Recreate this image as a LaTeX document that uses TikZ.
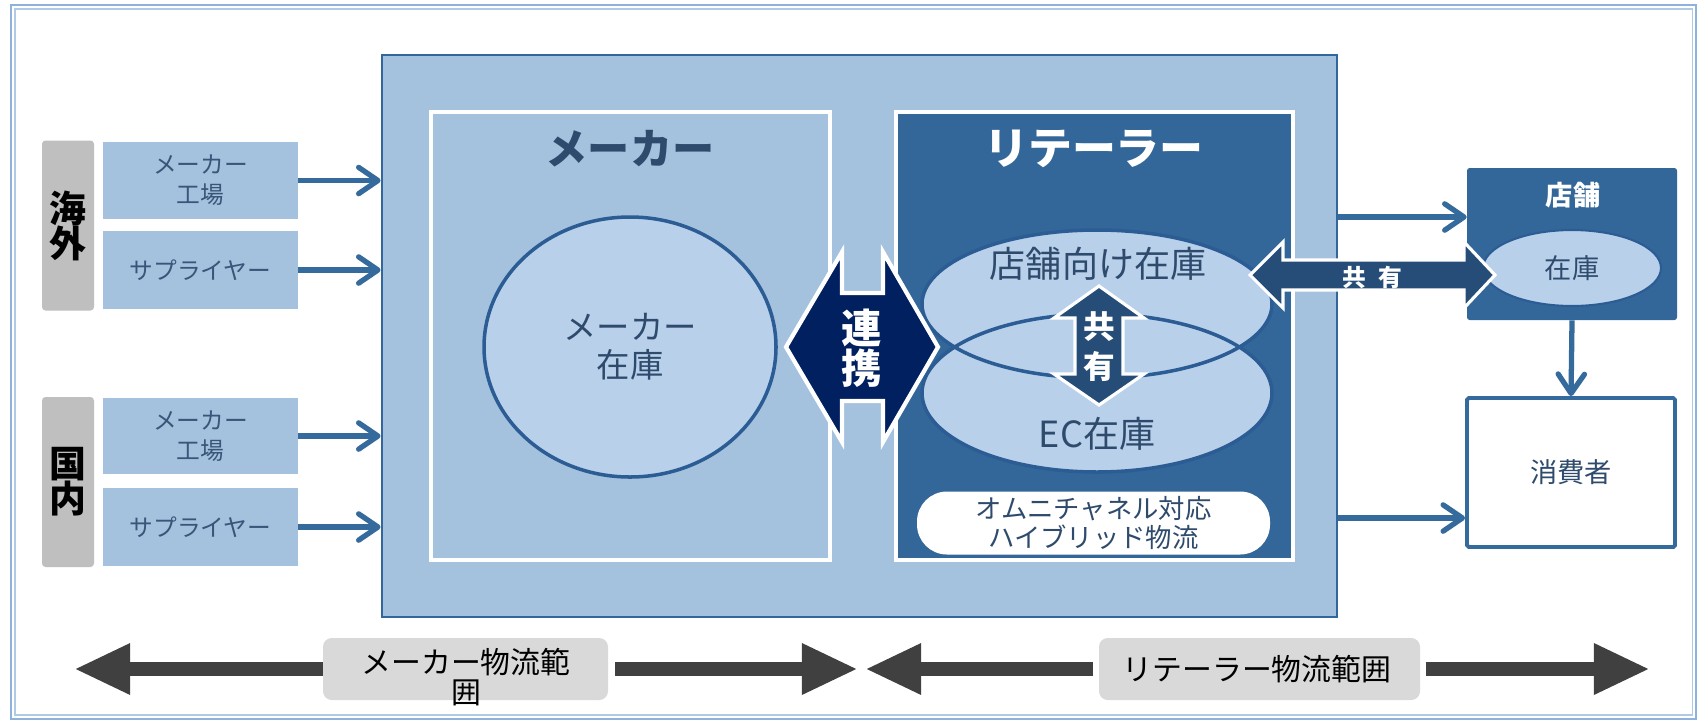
\documentclass[tikz,border=0pt]{standalone}
\usepackage{fontspec}
\setmainfont{Noto Sans CJK JP}
\usetikzlibrary{arrows.meta,shapes.geometric}
\definecolor{mainc}{HTML}{A4C2DE}
\definecolor{bordc}{HTML}{33669A}
\definecolor{retc}{HTML}{346799}
\definecolor{ellc}{HTML}{B8D0EA}
\definecolor{ellb}{HTML}{2B5C94}
\definecolor{navyc}{HTML}{002060}
\definecolor{sharec}{HTML}{264D77}
\definecolor{arrc}{HTML}{356A9C}
\definecolor{txtc}{HTML}{2E4A6C}
\definecolor{boxtxt}{HTML}{3B5479}
\definecolor{grayl}{HTML}{BFBFBF}
\definecolor{grayb}{HTML}{D9D9D9}
\definecolor{darkg}{HTML}{404040}
\definecolor{framec}{HTML}{8EB2DC}
\newcommand{\myfs}[2]{\fontsize{#1pt}{#2pt}\selectfont}
\begin{document}
\begin{tikzpicture}[x=0.02cm,y=-0.02cm,
  sz/.style 2 args={minimum width=#1*0.02cm, minimum height=#2*0.02cm, inner sep=0pt},
  lbox/.style={sz={195}{77}, fill=mainc, align=center, font=\myfs{13.5}{17}, text=boxtxt},
  glbl/.style={sz={52}{170}, fill=grayl, rounded corners=2pt, align=center, font=\myfs{21}{20}\bfseries, text=black},
  conn/.style={draw=arrc, line width=3pt, -{Straight Barb[length=11pt,width=15pt,round]}},
  bigarr/.style={draw=darkg, line width=8.5pt, -{Triangle[length=32pt,width=27pt]}},
  lblbox/.style={fill=grayb, rounded corners=5pt},
  lbltxt/.style={font=\myfs{17}{17}, text=black, align=center},
  ellfill/.style={ellipse, fill=ellc, inner sep=0pt},
  blockarr/.style={draw=white, line width=1.8pt, line join=miter}
]
\useasboundingbox (0,0) rectangle (1702,721);
\fill[white] (0,0) rectangle (1702,721);
\draw[framec, line width=0.7pt] (11,5) rectangle (1696,719);
\draw[framec!70, line width=0.6pt] (15,9) rectangle (1692,715);

% main container
\node[sz={955}{562}, fill=mainc, draw=bordc, line width=1.6pt] (main) at (859.5,336) {};
\node[sz={399}{448}, fill=mainc, draw=white, line width=2.6pt] (maker) at (630.5,336) {};
\node[sz={397}{448}, fill=retc, draw=white, line width=2.6pt] (ret) at (1094.5,336) {};
\node[font=\myfs{24}{26}\bfseries, text=txtc] (makert) at (630,149) {メーカー};
\node[font=\myfs{25}{27}\bfseries, text=white] (rett) at (1094,149) {リテーラー};

% maker inventory
\node[ellipse, sz={292}{260}, fill=ellc, draw=ellb, line width=2pt, align=center, font=\myfs{19}{21.5}, text=txtc] (makinv) at (630,347) {メーカー\\在庫};

% retailer inventories
\node[ellfill, sz={350}{148}] (strinv) at (1097,304) {};
\node[ellfill, sz={350}{158}] (ecinv) at (1097,393) {};
\draw[ellb, line width=2pt] (strinv.center) ellipse [x radius=175, y radius=74];
\draw[ellb, line width=2pt] (ecinv.center) ellipse [x radius=175, y radius=79];
\node[font=\myfs{20.5}{22}, text=txtc] (strinvt) at (1098,264) {店舗向け在庫};
\node[font=\myfs{20.5}{22}, text=txtc] (ecinvt) at (1097,434) {EC在庫};

% vertical share arrow
\draw[blockarr, fill=sharec] (1099,286) -- (1144,318) -- (1123,318) -- (1123,374) -- (1144,374) -- (1099,405) -- (1054,374) -- (1075,374) -- (1075,318) -- (1054,318) -- cycle;
\node[font=\myfs{18}{22.7}\bfseries, text=white, align=center] (kyoyu1) at (1099,347) {共\\有};

% omni
\node[sz={353}{63}, fill=white, rounded corners=0.6cm, align=center, font=\myfs{15}{17}, text=txtc] (omni) at (1093.5,523) {オムニチャネル対応\\ハイブリッド物流};

% renkei arrow
\draw[blockarr, line width=2.4pt, fill=navyc] (786,347) -- (842,252) -- (842,293) -- (883,293) -- (883,252) -- (938,347) -- (883,442) -- (883,401) -- (842,401) -- (842,442) -- cycle;
\node[font=\myfs{23}{22.7}\bfseries, text=white, align=center] (renkei) at (862,348) {連\\携};

% left sources
\node[glbl] (kaigai) at (68,225.5) {海\\外};
\node[glbl] (kokunai) at (68,482) {国\\内};
\node[lbox] (mf1) at (200.5,180.5) {メーカー\\工場};
\node[lbox, sz={195}{78}] (sup1) at (200.5,270) {サプライヤー};
\node[lbox, sz={195}{76}] (mf2) at (200.5,436) {メーカー\\工場};
\node[lbox, sz={195}{78}] (sup2) at (200.5,527) {サプライヤー};
\draw[conn] (mf1.east) -- (mf1.east -| main.west);
\draw[conn] (sup1.east) -- (sup1.east -| main.west);
\draw[conn] (mf2.east) -- (mf2.east -| main.west);
\draw[conn] (sup2.east) -- (sup2.east -| main.west);

% store and consumer
\node[sz={210}{152}, fill=retc, rounded corners=1.5pt] (store) at (1572,244) {};
\node[font=\myfs{15.5}{17}\bfseries, text=white] (storet) at (1573,195) {店舗};
\node[ellipse, sz={178}{76}, fill=ellc, draw=ellb, line width=1.2pt, font=\myfs{15.5}{17}, text=txtc] (stinv) at (1572,268) {在庫};
\node[sz={208}{149}, fill=white, draw=arrc, line width=2.2pt, rounded corners=1pt, font=\myfs{15.5}{17}, text=txtc] (cons) at (1571,472.5) {消費者};
\coordinate (s1) at (1400,217);
\coordinate (c1) at (1400,518);
\draw[conn] (s1 -| main.east) -- (s1 -| store.west);
\draw[conn] (c1 -| main.east) -- (c1 -| cons.west);
\draw[conn] (store.south) -- (cons.north);

% horizontal share arrow
\draw[blockarr, fill=sharec] (1250,275) -- (1283,242) -- (1283,260) -- (1464,260) -- (1464,242) -- (1495,275) -- (1464,308) -- (1464,290) -- (1283,290) -- (1283,308) -- cycle;
\node[font=\myfs{13.5}{15}\bfseries, text=white] (kyoyu2) at (1372,277) {共\hspace{7pt}有};

% bottom range arrows
\node[lblbox, sz={285}{62}] (mlabel) at (465.5,669) {};
\node[lbltxt] (mlabelt) at (466,677) {メーカー物流範\\囲};
\node[lblbox, sz={321}{62}] (rlabel) at (1259.5,669) {};
\node[lbltxt] (rlabelt) at (1257,669) {リテーラー物流範囲};
\coordinate (mlt) at (74,669);
\coordinate (mrt) at (858,669);
\coordinate (rlt) at (865,669);
\coordinate (rrt) at (1650,669);
\draw[bigarr] (mlabel.west) -- (mlt);
\draw[bigarr, shorten <=4pt] (mlabel.east) -- (mrt);
\draw[bigarr, shorten <=3pt] (rlabel.west) -- (rlt);
\draw[bigarr, shorten <=3pt] (rlabel.east) -- (rrt);
\end{tikzpicture}
\end{document}
